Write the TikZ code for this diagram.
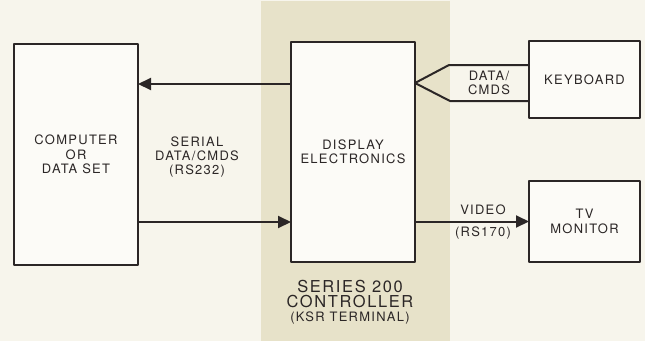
\documentclass[tikz,border=0pt]{standalone}
\usepackage{fontspec}
\setmainfont{TeX Gyre Heros}[LetterSpace=10]
\usetikzlibrary{arrows.meta}
\definecolor{paper}{HTML}{F7F5EC}
\definecolor{beige}{HTML}{E7E2C9}
\definecolor{ink}{HTML}{2B2626}
\definecolor{boxfill}{HTML}{FCFBF7}
\begin{document}
\begin{tikzpicture}[x=1bp, y=-1bp, line join=round,
  every node/.style={inner sep=0pt, outer sep=0pt, text=ink, font=\fontsize{13}{14.5}\selectfont, align=center},
  unit/.style={draw=ink, line width=2.8bp, fill=boxfill},
  wire/.style={draw=ink, line width=2bp},
  tip/.style={-{Triangle[length=13bp, width=12bp]}}]
\fill[paper] (0,0) rectangle (645,341);
\useasboundingbox (0,0) rectangle (645,341);
\fill[beige] (261,1) rectangle (450,341);

\node[unit, minimum width=124bp, minimum height=221bp] (comp) at (76,154.5) {COMPUTER\\OR\\DATA SET};
\node[unit, minimum width=124bp, minimum height=220bp] (disp) at (353,152) {DISPLAY\\ELECTRONICS};
\node[unit, minimum width=111bp, minimum height=77bp] (kbd) at (584.5,79.5) {KEYBOARD};
\node[unit, minimum width=111bp, minimum height=81bp] (tv) at (584.5,221.5) {TV\\MONITOR};

\coordinate (up) at (0,84);
\coordinate (lo) at (0,222);
\coordinate (wtop) at (449,65);
\coordinate (wbot) at (450,101);
\coordinate (wtip) at (415,83);

\draw[wire, tip] (disp.west |- up) -- (comp.east |- up);
\draw[wire, tip] (comp.east |- lo) -- (disp.west |- lo);
\draw[wire, tip] (disp.east |- tv.west) -- (tv.west);
\draw[wire] (kbd.west |- wtop) -- (wtop) -- (wtip) -- (wbot) -- (kbd.west |- wbot);

\node (serial) at (197,157) {SERIAL\\DATA/CMDS\\(RS232)};
\node (kbdata) at (489,83) {DATA/\\CMDS};
\node (video) at (483,210) {VIDEO};
\node (rs170) at (483,233) {(RS170)};
\node[font=\fontsize{16.5}{16}\selectfont] (series) at (350,294) {SERIES 200\\CONTROLLER};
\node (ksr) at (350,318) {(KSR TERMINAL)};
\end{tikzpicture}
\end{document}
